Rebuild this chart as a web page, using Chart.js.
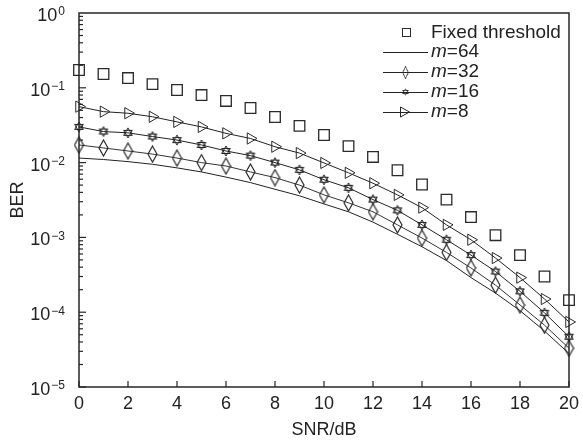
<!DOCTYPE html>
<html>
<head>
<meta charset="utf-8">
<script src="https://cdn.jsdelivr.net/npm/chart.js@4"></script>
<style>
  html, body { margin: 0; padding: 0; background: #fff; }
  #wrap { width: 583px; height: 446px; }
</style>
</head>
<body>
<div id="wrap"><canvas id="berChart" width="583" height="446"></canvas></div>
<script>
// SNR values (dB)
const snr = [0, 1, 2, 3, 4, 5, 6, 7, 8, 9, 10, 11, 12, 13, 14, 15, 16, 17, 18, 19, 20];

// BER
const berFixed = [0.173, 0.153, 0.135, 0.112, 0.0935, 0.080, 0.0667, 0.0537, 0.0407, 0.031, 0.0234,
  0.0166, 0.0119, 0.0079, 0.0051, 0.0032, 0.00187, 0.00107, 0.00058, 0.0003, 0.000145];
const berM64 = [0.0115, 0.0110, 0.0103, 0.0095, 0.0085, 0.0075, 0.0064, 0.0054, 0.0044, 0.0036, 0.0028,
  0.0022, 0.0016, 0.00110, 0.00075, 0.00049, 0.00029, 0.00018, 0.000105, 0.000056, 0.000028];
const berM32 = [0.0172, 0.0157, 0.0143, 0.013, 0.0115, 0.010, 0.009, 0.0075, 0.0063, 0.005, 0.0037,
  0.0029, 0.0022, 0.00147, 0.00098, 0.00063, 0.00039, 0.00023, 0.000125, 0.000067, 0.000033];
const berM16 = [0.030, 0.026, 0.025, 0.0223, 0.020, 0.0172, 0.0143, 0.0124, 0.010, 0.008, 0.0059,
  0.0046, 0.0032, 0.0023, 0.00147, 0.00093, 0.00058, 0.00035, 0.00019, 0.000098, 0.000047];
const berM8 = [0.056, 0.048, 0.0457, 0.041, 0.035, 0.030, 0.0246, 0.021, 0.0163, 0.0134, 0.0099,
  0.0073, 0.0053, 0.0037, 0.0025, 0.00147, 0.00093, 0.00053, 0.00029, 0.00015, 0.000074];

const xTicks = [0, 2, 4, 6, 8, 10, 12, 14, 16, 18, 20];
const yDecades = [0, -1, -2, -3, -4, -5];

const fontFamily = '"Liberation Sans", Arial, sans-serif';
const labelFont = '18px ' + fontFamily;
const legendFont = '19px ' + fontFamily;
const supFont = '12px ' + fontFamily;
const axisColor = '#2b2424';
const markColor = '#2a2a2a';

function makeDiamond() {
  const c = document.createElement('canvas');
  c.width = 11; c.height = 18;
  const g = c.getContext('2d');
  g.strokeStyle = markColor; g.lineWidth = 1.2;
  g.beginPath();
  g.moveTo(5.5, 1); g.lineTo(10, 9); g.lineTo(5.5, 17); g.lineTo(1, 9); g.closePath();
  g.stroke();
  return c;
}

function makeStar() {
  const c = document.createElement('canvas');
  c.width = 12; c.height = 12;
  const g = c.getContext('2d');
  g.strokeStyle = '#222'; g.lineWidth = 1;
  const r = 5, cx = 6, cy = 6;
  for (const off of [-Math.PI / 2, Math.PI / 2]) {
    g.beginPath();
    for (let i = 0; i < 3; i++) {
      const a = off + i * 2 * Math.PI / 3;
      const px = cx + r * Math.cos(a), py = cy + r * Math.sin(a);
      if (i === 0) g.moveTo(px, py); else g.lineTo(px, py);
    }
    g.closePath();
    g.stroke();
  }
  return c;
}

const diamondImg = makeDiamond();
const starImg = makeStar();

function toPoints(ys) {
  return snr.map((x, i) => ({ x: x, y: ys[i] }));
}

const framePlugin = {
  id: 'framePlugin',
  afterDraw(chart) {
    const ctx = chart.ctx;
    const a = chart.chartArea;
    const xs = chart.scales.x;
    const ys = chart.scales.y;
    ctx.save();
    ctx.strokeStyle = axisColor;
    ctx.lineWidth = 1.5;
    ctx.strokeRect(a.left, a.top, a.right - a.left, a.bottom - a.top);

    // y ticks, inward
    ctx.lineWidth = 1.2;
    yDecades.forEach((d) => {
      if (d === -5) return;
      for (let k = 1; k <= 9; k++) {
        const v = k * Math.pow(10, d - 1);
        const py = ys.getPixelForValue(v);
        ctx.beginPath();
        ctx.moveTo(a.left, py);
        ctx.lineTo(a.left + (k === 1 ? 7 : 4), py);
        ctx.stroke();
      }
    });
    // x ticks, inward
    xTicks.forEach((t) => {
      const px = xs.getPixelForValue(t);
      ctx.beginPath();
      ctx.moveTo(px, a.bottom);
      ctx.lineTo(px, a.bottom - 6);
      ctx.stroke();
    });

    // labels
    ctx.fillStyle = '#222';
    ctx.font = labelFont;
    ctx.textAlign = 'center';
    ctx.textBaseline = 'middle';
    xTicks.forEach((t) => {
      ctx.fillText(String(t), xs.getPixelForValue(t), a.bottom + 17);
    });
    yDecades.forEach((d) => {
      const py = ys.getPixelForValue(Math.pow(10, d));
      const exp = d === 0 ? '0' : '\u2212' + String(-d);
      ctx.font = supFont;
      const ew = ctx.measureText(exp).width;
      ctx.textAlign = 'left';
      ctx.textBaseline = 'middle';
      const expX = a.left - 14 - ew;
      ctx.fillText(exp, expX, py - 1);
      ctx.font = labelFont;
      ctx.textAlign = 'right';
      ctx.fillText('10', expX - 1, py + 3);
    });

    // axis titles
    ctx.font = labelFont;
    ctx.textAlign = 'center';
    ctx.fillText('SNR/dB', (a.left + a.right) / 2, a.bottom + 43);
    ctx.save();
    ctx.translate(18, (a.top + a.bottom) / 2);
    ctx.rotate(-Math.PI / 2);
    ctx.fillText('BER', 0, 0);
    ctx.restore();

    // legend
    const lx0 = 383, lx1 = 428, tx = 431;
    ctx.font = legendFont;
    ctx.textBaseline = 'middle';
    ctx.textAlign = 'left';
    ctx.lineWidth = 1;
    ctx.strokeStyle = markColor;
    ctx.strokeRect(402.5, 28.5, 8, 8);
    ctx.fillText('Fixed threshold', tx, 33);
    const items = [
      { y: 52, label: '64', img: null },
      { y: 72, label: '32', img: 'diamond' },
      { y: 92, label: '16', img: 'star' },
      { y: 112, label: '8', img: 'tri' }
    ];
    items.forEach((it) => {
      ctx.strokeStyle = '#222';
      ctx.lineWidth = 1;
      ctx.beginPath();
      ctx.moveTo(lx0, it.y + 0.5);
      ctx.lineTo(lx1, it.y + 0.5);
      ctx.stroke();
      const mx = (lx0 + lx1) / 2;
      if (it.img === 'diamond') {
        ctx.drawImage(diamondImg, mx - 3.5, it.y - 6, 7, 13);
      } else if (it.img === 'star') {
        ctx.drawImage(starImg, mx - 4, it.y - 4, 8, 8);
      } else if (it.img === 'tri') {
        ctx.beginPath();
        ctx.moveTo(mx - 5, it.y - 5);
        ctx.lineTo(mx + 4, it.y);
        ctx.lineTo(mx - 5, it.y + 5);
        ctx.closePath();
        ctx.stroke();
      }
      ctx.font = 'italic ' + legendFont;
      ctx.fillText('m', tx, it.y);
      const mw = ctx.measureText('m').width;
      ctx.font = legendFont;
      ctx.fillText('=' + it.label, tx + mw, it.y);
    });
    ctx.restore();
  }
};

const ctx = document.getElementById('berChart').getContext('2d');
new Chart(ctx, {
  type: 'line',
  data: {
    datasets: [
      {
        label: 'Fixed threshold',
        data: toPoints(berFixed),
        showLine: false,
        pointStyle: 'rect',
        pointRadius: 7.5,
        borderColor: markColor,
        backgroundColor: 'rgba(0,0,0,0)',
        borderWidth: 1.3,
      },
      {
        label: 'm=64',
        data: toPoints(berM64),
        borderColor: '#222',
        borderWidth: 1,
        pointRadius: 0,
        tension: 0,
      },
      {
        label: 'm=32',
        data: toPoints(berM32),
        borderColor: '#333',
        borderWidth: 1,
        pointStyle: diamondImg,
        tension: 0,
      },
      {
        label: 'm=16',
        data: toPoints(berM16),
        borderColor: '#222',
        borderWidth: 1,
        pointStyle: starImg,
        tension: 0,
      },
      {
        label: 'm=8',
        data: toPoints(berM8),
        borderColor: '#222',
        borderWidth: 1,
        pointStyle: 'triangle',
        rotation: 90,
        pointRadius: 6.5,
        pointBorderColor: markColor,
        pointBackgroundColor: 'rgba(0,0,0,0)',
        pointBorderWidth: 1,
        tension: 0,
      },
    ],
  },
  options: {
    responsive: false,
    animation: false,
    events: [],
    clip: false,
    layout: { padding: { left: 79, top: 13, right: 14, bottom: 59 } },
    plugins: {
      legend: { display: false },
      tooltip: { enabled: false },
    },
    scales: {
      x: {
        type: 'linear',
        min: 0,
        max: 20,
        ticks: { display: false },
        grid: { display: false },
        border: { display: false },
        afterFit: (s) => { s.height = 0; },
      },
      y: {
        type: 'logarithmic',
        min: 1e-5,
        max: 1,
        ticks: { display: false },
        grid: { display: false },
        border: { display: false },
        afterFit: (s) => { s.width = 0; },
      },
    },
  },
  plugins: [framePlugin],
});
</script>
</body>
</html>
